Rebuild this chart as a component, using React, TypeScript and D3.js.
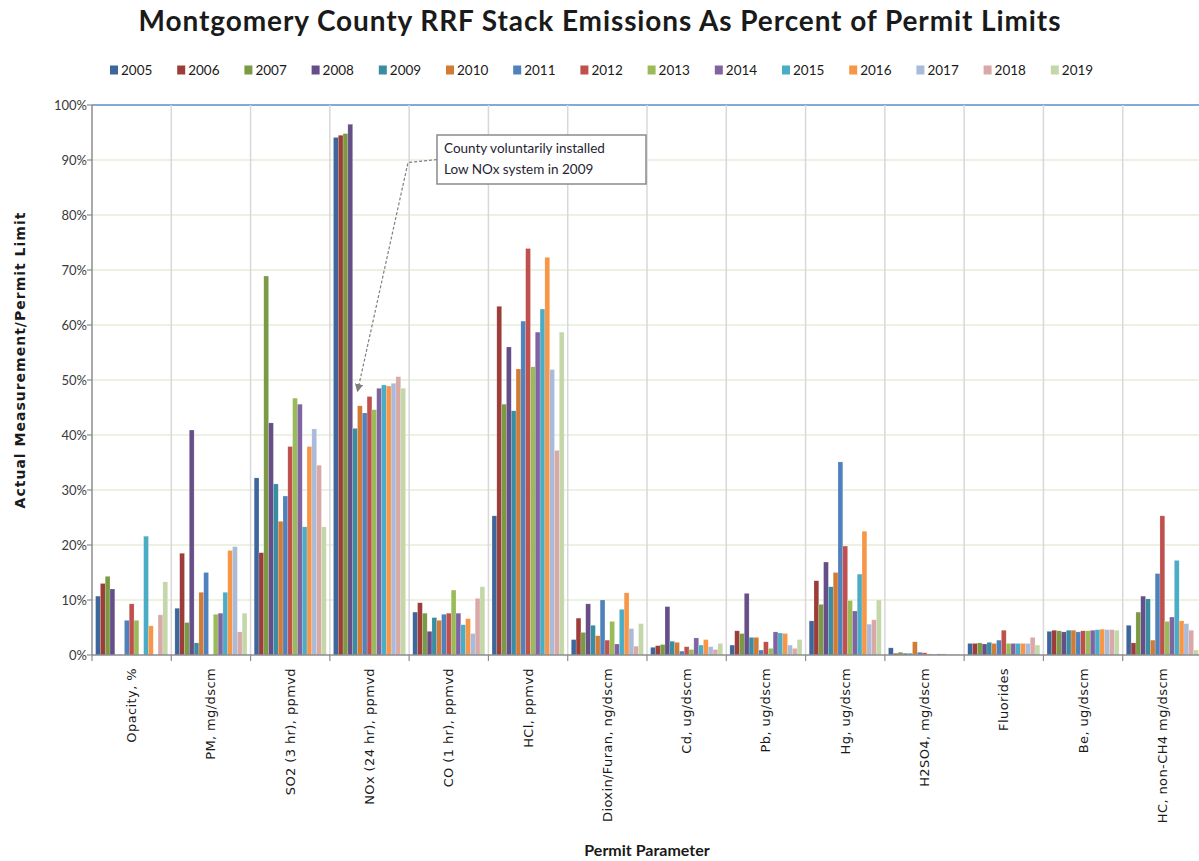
import React, { useEffect } from "react";
import * as d3 from "d3";

// series = years, one colour each (Excel palette)
const years = [
  "2005", "2006", "2007", "2008", "2009", "2010", "2011", "2012",
  "2013", "2014", "2015", "2016", "2017", "2018", "2019",
];
const colors = [
  "#3d679b", "#9d3d3a", "#7c9a43", "#664f88", "#398ca1", "#d27b35",
  "#4f81bd", "#c0504d", "#9bbb59", "#8064a2", "#4bacc6", "#f79646",
  "#aabbd9", "#d9a9a8", "#c4d7a8",
];

const categories = [
  "Opacity, %", "PM, mg/dscm", "SO2 (3 hr), ppmvd", "NOx (24 hr), ppmvd",
  "CO (1 hr), ppmvd", "HCl, ppmvd", "Dioxin/Furan, ng/dscm", "Cd, ug/dscm",
  "Pb, ug/dscm", "Hg, ug/dscm", "H2SO4, mg/dscm", "Fluorides",
  "Be, ug/dscm", "HC, non-CH4 mg/dscm",
];

// percent of permit limit, 2005..2019 per parameter
const opacity = [10.7, 13.0, 14.3, 12.0, 0, 0, 6.3, 9.3, 6.3, 0, 21.6, 5.3, 0, 7.3, 13.3];
const pm = [8.5, 18.5, 5.9, 40.9, 2.2, 11.4, 15.0, 0, 7.4, 7.6, 11.4, 19.0, 19.7, 4.2, 7.6];
const so2 = [32.2, 18.6, 68.9, 42.2, 31.1, 24.3, 28.9, 37.9, 46.7, 45.6, 23.3, 37.9, 41.1, 34.5, 23.3];
const nox = [94.1, 94.5, 94.8, 96.5, 41.2, 45.3, 44.0, 47.0, 44.6, 48.5, 49.1, 48.9, 49.4, 50.6, 48.5];
const co = [7.8, 9.5, 7.6, 4.3, 6.8, 6.3, 7.4, 7.6, 11.8, 7.6, 5.5, 6.6, 3.9, 10.3, 12.4];
const hcl = [25.3, 63.4, 45.6, 56.0, 44.4, 52.0, 60.7, 73.9, 52.4, 58.7, 62.9, 72.3, 51.9, 37.2, 58.7];
const dioxin = [2.8, 6.7, 4.1, 9.3, 5.4, 3.5, 10.0, 2.7, 6.1, 2.0, 8.3, 11.3, 4.8, 1.6, 5.7];
const cd = [1.4, 1.7, 1.9, 8.8, 2.5, 2.3, 0.7, 1.5, 1.0, 3.1, 1.8, 2.8, 1.5, 1.0, 2.1];
const pb = [1.8, 4.4, 3.9, 11.2, 3.2, 3.2, 0.9, 2.4, 1.2, 4.2, 4.0, 3.9, 1.8, 1.2, 2.8];
const hg = [6.2, 13.5, 9.2, 16.9, 12.4, 15.0, 35.1, 19.8, 9.9, 8.0, 14.7, 22.5, 5.6, 6.4, 10.0];
const h2so4 = [1.3, 0.3, 0.5, 0.3, 0.3, 2.4, 0.5, 0.4, 0.2, 0.1, 0.2, 0.2, 0.1, 0.1, 0.1];
const fluorides = [2.1, 2.1, 2.2, 2.0, 2.3, 2.1, 2.7, 4.5, 2.1, 2.1, 2.1, 2.1, 2.1, 3.2, 1.8];
const be = [4.3, 4.5, 4.4, 4.2, 4.5, 4.5, 4.2, 4.4, 4.4, 4.5, 4.6, 4.7, 4.6, 4.6, 4.5];
const hc = [5.4, 2.2, 7.8, 10.7, 10.2, 2.7, 14.8, 25.3, 6.1, 6.9, 17.2, 6.2, 5.7, 4.5, 0.9];

const seriesByCategory = [
  opacity, pm, so2, nox, co, hcl, dioxin, cd, pb, hg, h2so4, fluorides, be, hc,
];

const yTicks = [0, 10, 20, 30, 40, 50, 60, 70, 80, 90, 100];

const W = 1199;
const H = 861;
const plot = { left: 92, right: 1202, top: 105, bottom: 655 };

const App = () => {
  useEffect(() => {
    document.body.style.margin = "0";
  }, []);

  const x0 = d3
    .scaleBand<string>()
    .domain(categories)
    .range([plot.left, plot.right]);
  // Excel gap width 150% -> 0.75 bar on each side
  const x1 = d3
    .scaleBand<string>()
    .domain(years)
    .range([0, x0.bandwidth()])
    .paddingOuter(0.75);
  const y = d3.scaleLinear().domain([0, 100]).range([plot.bottom, plot.top]);

  const bars = categories.flatMap((c, ci) =>
    years.map((yr, yi) => ({ c, yr, yi, v: seriesByCategory[ci][yi] }))
  );

  // annotation arrow aims at the NOx 2009 bar
  const tipX = (x0("NOx (24 hr), ppmvd") as number) + (x1("2009") as number) + x1.bandwidth();
  const tipY = y(47.9);

  return (
    <div style={{ position: "absolute", left: 0, top: 0 }}>
      <svg width={W} height={H} style={{ display: "block", background: "#fff" }}>
        <defs>
          <marker
            id="arrow"
            viewBox="0 0 10 10"
            refX="9"
            refY="5"
            markerWidth="7"
            markerHeight="7"
            orient="auto"
          >
            <path d="M0,0 L10,5 L0,10 Z" fill="#7f7f7f" />
          </marker>
        </defs>

        <text
          x={600}
          y={31}
          textAnchor="middle"
          fontFamily="Lato, sans-serif"
          fontWeight="bold"
          fontSize={28}
          letterSpacing={0.9}
          fill="#1a1a1a"
        >
          Montgomery County RRF Stack Emissions As Percent of Permit Limits
        </text>

        {/* legend */}
        <g fontFamily="Lato, sans-serif" fontSize={13.5} fill="#1a1a1a">
          {years.map((yr, i) => (
            <g key={yr} transform={`translate(${110 + i * 67.2},70)`}>
              <rect x={0} y={-4.5} width={8} height={9} fill={colors[i]} />
              <text x={11} y={5}>
                {yr}
              </text>
            </g>
          ))}
        </g>

        {/* horizontal gridlines */}
        {yTicks.slice(1, -1).map((t) => (
          <line
            key={t}
            x1={plot.left}
            x2={plot.right}
            y1={y(t)}
            y2={y(t)}
            stroke="#e6ecd7"
            strokeWidth={1.5}
          />
        ))}
        <line
          x1={plot.left}
          x2={plot.right}
          y1={y(100)}
          y2={y(100)}
          stroke="#5b8ccb"
          strokeWidth={1.3}
        />

        {/* vertical gridlines */}
        {categories.slice(1).map((c) => (
          <line
            key={c}
            x1={x0(c)}
            x2={x0(c)}
            y1={plot.top}
            y2={plot.bottom}
            stroke="#d8d8d8"
            strokeWidth={1.5}
          />
        ))}

        {/* bars */}
        {bars
          .filter((b) => b.v > 0)
          .map((b) => (
            <rect
              key={b.c + b.yr}
              x={(x0(b.c) as number) + (x1(b.yr) as number)}
              y={y(b.v)}
              width={x1.bandwidth()}
              height={plot.bottom - y(b.v)}
              fill={colors[b.yi]}
              stroke="#ffffff"
              strokeOpacity={0.35}
              strokeWidth={0.5}
            />
          ))}

        {/* axes */}
        <line
          x1={plot.left}
          x2={plot.left}
          y1={plot.top}
          y2={plot.bottom}
          stroke="#8c8c8c"
          strokeWidth={1.5}
        />
        <line
          x1={plot.left}
          x2={plot.right}
          y1={plot.bottom}
          y2={plot.bottom}
          stroke="#8c8c8c"
          strokeWidth={1.5}
        />
        {yTicks.map((t) => (
          <g key={t}>
            <line
              x1={plot.left - 5}
              x2={plot.left}
              y1={y(t)}
              y2={y(t)}
              stroke="#8c8c8c"
              strokeWidth={1.2}
            />
            <text
              x={plot.left - 5}
              y={y(t)}
              dy="0.35em"
              textAnchor="end"
              fontFamily="Lato, sans-serif"
              fontSize={13}
              fill="#3a3a3a"
            >
              {t}%
            </text>
          </g>
        ))}
        {categories.map((c) => (
          <line
            key={c}
            x1={x0(c)}
            x2={x0(c)}
            y1={plot.bottom}
            y2={plot.bottom + 6}
            stroke="#8c8c8c"
            strokeWidth={1.2}
          />
        ))}
        {categories.map((c) => {
          const cx = (x0(c) as number) + x0.bandwidth() / 2;
          return (
            <text
              key={c}
              transform={`translate(${cx},668) rotate(-90)`}
              dy="0.35em"
              textAnchor="end"
              fontFamily="DejaVu Sans, sans-serif"
              fontSize={13}
              letterSpacing={0.4}
              fill="#1a1a1a"
            >
              {c}
            </text>
          );
        })}

        <text
          transform={`translate(20,360) rotate(-90)`}
          dy="0.35em"
          textAnchor="middle"
          fontFamily="DejaVu Sans, sans-serif"
          fontWeight="bold"
          fontSize={14}
          letterSpacing={1}
          fill="#1a1a1a"
        >
          Actual Measurement/Permit Limit
        </text>
        <text
          x={(plot.left + plot.right) / 2}
          y={856}
          textAnchor="middle"
          fontFamily="Lato, sans-serif"
          fontWeight="bold"
          fontSize={16}
          fill="#1a1a1a"
        >
          Permit Parameter
        </text>

        {/* annotation */}
        <path
          d={`M437,159.5 L408,162.5 L${tipX},${tipY}`}
          fill="none"
          stroke="#7f7f7f"
          strokeWidth={1.2}
          strokeDasharray="3,2"
          markerEnd="url(#arrow)"
        />
        <rect
          x={437}
          y={135}
          width={209}
          height={49}
          fill="#fff"
          stroke="#8a8a8a"
          strokeWidth={1.5}
        />
        <g fontFamily="Lato, sans-serif" fontSize={13.5} fill="#1f2533">
          <text x={444} y={153}>
            County voluntarily installed
          </text>
          <text x={444} y={174}>
            Low NOx system in 2009
          </text>
        </g>
      </svg>
    </div>
  );
};

export default App;
